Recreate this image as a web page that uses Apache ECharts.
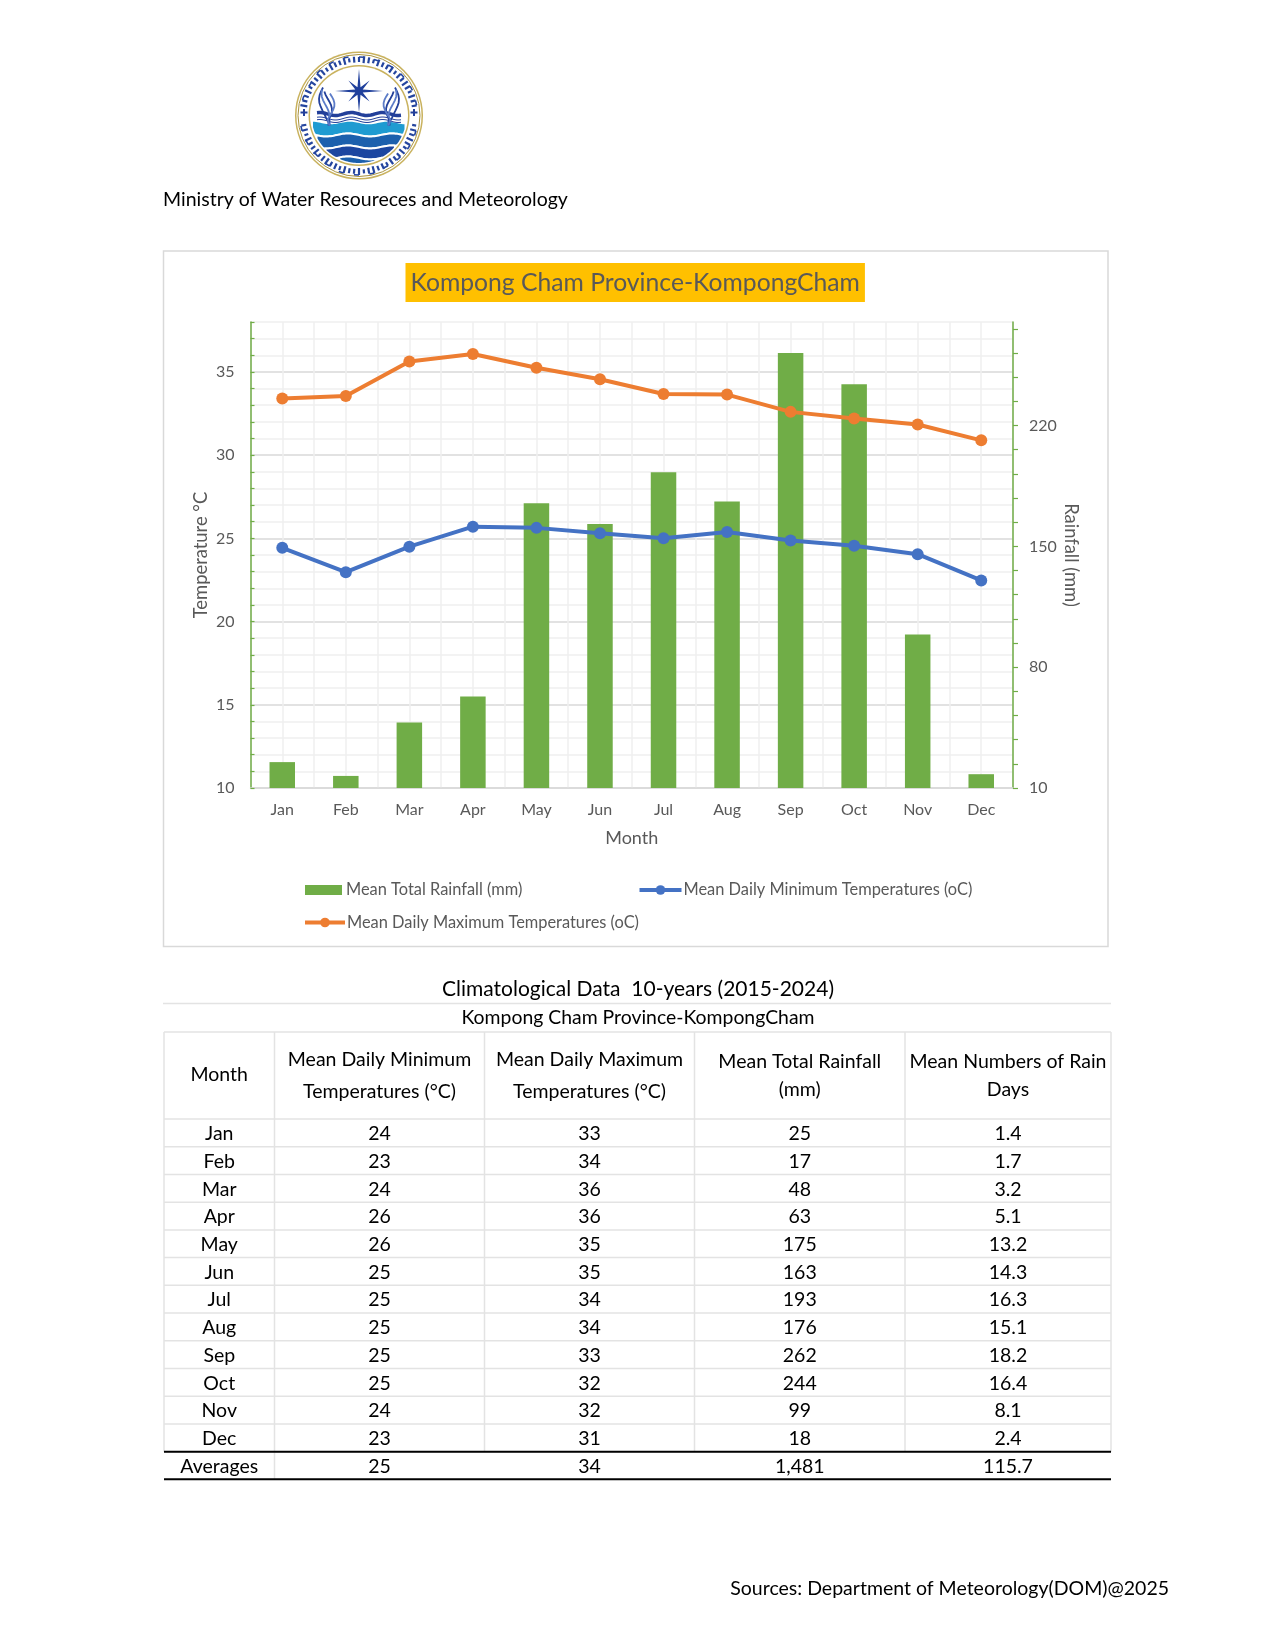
<!DOCTYPE html>
<html><head><meta charset="utf-8">
<style>html,body{margin:0;padding:0;background:#fff}#c{width:1275px;height:1650px}</style>
<script src="https://cdn.jsdelivr.net/npm/echarts@6/dist/echarts.min.js"></script>
</head><body><div id="c"></div>
<script>
const months=['Jan','Feb','Mar','Apr','May','Jun','Jul','Aug','Sep','Oct','Nov','Dec'];
const rainfall=[25,17,48,63,175,163,193,176,262,244,99,18];
const minTemp=[24.43,22.97,24.5,25.7,25.63,25.3,25.0,25.38,24.87,24.56,24.05,22.47];
const maxTemp=[33.4,33.55,35.63,36.08,35.25,34.56,33.67,33.64,32.6,32.2,31.84,30.89];
const tableMin=['24','23','24','26','26','25','25','25','25','25','24','23','25'];
const tableMax=['33','34','36','36','35','35','34','34','33','32','32','31','34'];
const tableRain=['25','17','48','63','175','163','193','176','262','244','99','18','1,481'];
const tableDays=['1.4','1.7','3.2','5.1','13.2','14.3','16.3','15.1','18.2','16.4','8.1','2.4','115.7'];
const tempLabels=[10,15,20,25,30,35];
const rainLabels=[10,80,150,220];
const rainTicks=[10,24,38,52,66,80,94,108,122,136,150,164,178,192,206,220,234,248,262,276];

const F='Lato';
const g=[];
const txt=(x,y,t,size,fill,align)=>g.push({type:'text',silent:true,z:5,style:{x,y,text:t,fontFamily:F,fontSize:size,fill:fill||'#000',align:align||'center',verticalAlign:'middle'}});
const ln=(x1,y1,x2,y2,c,w)=>g.push({type:'line',silent:true,z:3,shape:{x1,y1,x2,y2},style:{stroke:c,lineWidth:w}});

// chart frame + page texts
g.push({type:'rect',silent:true,shape:{x:163.5,y:251,width:944.5,height:695.5},style:{fill:'none',stroke:'#d9d9d9',lineWidth:1.5}});
txt(163,200,'Ministry of Water Resoureces and Meteorology',19.5,'#000','left');
txt(1169,1589,'Sources: Department of Meteorology(DOM)@2025',19.5,'#000','right');
txt(638,989.5,'Climatological Data  10-years (2015-2024)',21,'#000');
txt(638,1017.5,'Kompong Cham Province-KompongCham',19.4,'#000');

// table
const colX=[164,274.5,484.5,694.5,905,1111];
const cx=i=>(colX[i]+colX[i+1])/2;
const hdrTop=1032, hdrBot=1119, rowH=27.72;
ln(163,1003.5,1111,1003.5,'#e3e3e3',1.5);
ln(colX[0],hdrTop,colX[5],hdrTop,'#e3e3e3',1.5);
ln(colX[0],hdrBot,colX[5],hdrBot,'#e3e3e3',1.5);
for(let i=1;i<=12;i++)ln(colX[0],hdrBot+rowH*i,colX[5],hdrBot+rowH*i,'#e3e3e3',1.5);
colX.forEach((x,i)=>ln(x,hdrTop,x,hdrBot+rowH*12,'#e3e3e3',1.5));
ln(colX[1],hdrBot+rowH*12,colX[1],hdrBot+rowH*13,'#e3e3e3',1.5);
ln(colX[0],hdrBot+rowH*12,colX[5],hdrBot+rowH*12,'#000',2);
ln(colX[0],hdrBot+rowH*13,colX[5],hdrBot+rowH*13,'#000',2);
const HF=19.5;
txt(cx(0),1075,'Month',HF);
txt(cx(1),1059.5,'Mean Daily Minimum',HF); txt(cx(1),1091.5,'Temperatures (°C)',HF);
txt(cx(2),1059.5,'Mean Daily Maximum',HF); txt(cx(2),1091.5,'Temperatures (°C)',HF);
txt(cx(3),1061.5,'Mean Total Rainfall',HF); txt(cx(3),1090,'(mm)',HF);
txt(cx(4),1061.5,'Mean Numbers of Rain',HF); txt(cx(4),1090,'Days',HF);
months.concat(['Averages']).forEach((m,i)=>{
  const y=hdrBot+rowH*(i+.5)+1;
  txt(cx(0),y,m,HF);txt(cx(1),y,tableMin[i],HF);txt(cx(2),y,tableMax[i],HF);txt(cx(3),y,tableRain[i],HF);txt(cx(4),y,tableDays[i],HF);
});

// logo
(function(){
 const X=359,Y=115.5,c=(cc,r,o)=>g.push({type:'circle',silent:true,shape:{cx:X,cy:Y,r},style:Object.assign({fill:cc},o||{})});
 c('#c9b25e',64); c('#fff',62.5); c('none',61,{stroke:'#a8923f',lineWidth:1});
 c('#c9b25e',50.5); c('#fff',49);
 const band=(top,bot,fill)=>{
   const R=47.5,a=[],b=[];
   for(let dx=-R;dx<=R;dx+=1.5){
     const h=Math.sqrt(Math.max(0,R*R-dx*dx));
     const t=Math.max(top(dx),Y-h),q=Math.min(bot(dx),Y+h);
     if(q>t){a.push([X+dx,t]);b.unshift([X+dx,q]);}
   }
   g.push({type:'polygon',silent:true,z:2,shape:{points:a.concat(b)},style:{fill}});
 };
 const wave=(y0,amp,per)=>dx=>y0+amp*Math.sin(dx/per);
 band(wave(123,1.3,6),wave(134,1.5,7),'#1f9bd1');
 band(wave(134,1.5,7),wave(136,1.5,7),'#fff');
 band(wave(136,1.5,7),wave(146,1.5,7),'#1c60ad');
 band(wave(146,1.5,7),wave(148,1.5,7),'#fff');
 band(wave(148,1.5,7),wave(157,1.5,7),'#1c46a0');
 band(wave(157,1.5,7),wave(159,1.5,7),'#fff');
 band(wave(159,1.5,7),wave(170,1.5,7),'#1c60ad');
 // wave lines under the nagas
 for(const[y,w] of [[114,3.5],[118.5,1],[121,1]]){
   const p=[];for(let dx=-42;dx<=42;dx+=2)p.push([X+dx,y+1.5*Math.sin(dx/5)]);
   g.push({type:'polyline',silent:true,z:2,shape:{points:p},style:{stroke:'#23409a',lineWidth:w,fill:'none'}});
 }
 // compass star
 const sx=X,sy=91;
 const pts=[];const rays=[22,4,15,4,24,4,15,4,22,4,15,4,24,4,15,4];
 rays.forEach((r,i)=>{const a=i*Math.PI/8-Math.PI/2;pts.push([sx+r*Math.cos(a),sy+r*Math.sin(a)]);});
 g.push({type:'polygon',silent:true,z:2,shape:{points:pts},style:{fill:'#1f3f9c'}});
 // nagas
 for(const m of [-1,1]){
   for(let k=0;k<4;k++){
     const p=[];
     for(let t=0;t<=1.001;t+=.1){
       p.push([X+m*(36-k*2.5+4*Math.sin(t*5+k)-(t>.8?(t-.8)*15:0)),Y-28+k*2+t*(38-k*2)]);
     }
     g.push({type:'polyline',silent:true,z:2,shape:{points:p},style:{stroke:k%2?'#5c7cc8':'#23409a',lineWidth:1.8,fill:'none'}});
   }
   g.push({type:'rect',silent:true,z:2,shape:{x:X+m*55-3.5,y:Y-4,width:7,height:2},style:{fill:'#23409a'}});
   g.push({type:'rect',silent:true,z:2,shape:{x:X+m*55-1,y:Y-6.5,width:2,height:7},style:{fill:'#23409a'}});
 }
 // ring lettering (decorative strokes)
 const lens=[5,7,4,6,5,7,6,4,7,5];
 for(let i=0;i<72;i++){
   const a=i/72*Math.PI*2;
   if(Math.abs(Math.cos(a))>.985)continue;
   const l=lens[i%10],r1=56-l/2,r2=56+l/2;
   g.push({type:'line',silent:true,z:2,shape:{x1:X+r1*Math.cos(a),y1:Y+r1*Math.sin(a),x2:X+r2*Math.cos(a),y2:Y+r2*Math.sin(a)},style:{stroke:'#24459e',lineWidth:2.2}});
   if(i%3==0){const b=a+.035;g.push({type:'line',silent:true,z:2,shape:{x1:X+r2*Math.cos(a),y1:Y+r2*Math.sin(a),x2:X+r2*Math.cos(b+.05),y2:Y+r2*Math.sin(b+.05)},style:{stroke:'#24459e',lineWidth:1.6}});}
 }
})();

const minorColor='#efefef',majorColor='#d9d9d9';
const legendBase={orient:'horizontal',itemGap:4,selectedMode:false,padding:0,
  textStyle:{color:'#595959',fontFamily:F,fontSize:16.4,padding:[0,0,0,-3]}};
const lineLegend={itemWidth:42,itemHeight:12,lineStyle:{width:4}};
const chart=echarts.init(document.getElementById('c'),null,{width:1275,height:1650});
chart.setOption({
 animation:false,backgroundColor:'#fff',textStyle:{fontFamily:F},
 title:{text:'Kompong Cham Province-KompongCham',left:405.5,top:263,padding:[7,5,5,5],backgroundColor:'#FFC000',
   textStyle:{color:'#595959',fontFamily:F,fontSize:24.7,fontWeight:'normal',lineHeight:27}},
 legend:[
  Object.assign({},legendBase,{left:305,top:882,icon:'rect',itemWidth:37,itemHeight:10,textStyle:Object.assign({},legendBase.textStyle,{padding:[0,0,0,-1]}),data:['Mean Total Rainfall (mm)']}),
  Object.assign({},legendBase,lineLegend,{left:637.5,top:882,data:['Mean Daily Minimum Temperatures (oC)']}),
  Object.assign({},legendBase,lineLegend,{left:303,itemWidth:40,top:914.5,data:['Mean Daily Maximum Temperatures (oC)']})
 ],
 grid:{left:250.5,right:262,top:322,bottom:862},
 xAxis:[
  {type:'category',data:months,position:'bottom',
   axisLine:{onZero:false,lineStyle:{color:majorColor,width:1.5}},axisTick:{show:false},
   axisLabel:{color:'#595959',fontFamily:F,fontSize:16,margin:14},splitLine:{show:false},
   name:'Month',nameLocation:'middle',nameGap:41.5,nameMoveOverlap:false,nameTextStyle:{color:'#595959',fontFamily:F,fontSize:18}},
  {type:'value',min:0,max:24,interval:1,position:'top',
   axisLine:{show:false},axisTick:{show:false},axisLabel:{show:false},
   splitLine:{show:true,lineStyle:{color:minorColor,width:1.5}}}
 ],
 yAxis:[
  {type:'value',min:10,max:38,interval:1,position:'left',
   axisLine:{show:true,lineStyle:{color:'#70ad47',width:1.5}},
   axisTick:{show:true,inside:true,length:4,lineStyle:{color:'#70ad47',width:1.2}},
   axisLabel:{color:'#595959',fontFamily:F,fontSize:16,margin:16,customValues:tempLabels},
   splitLine:{show:true,lineStyle:{width:1.5,color:[majorColor,minorColor,minorColor,minorColor,minorColor]}},
   name:'Temperature °C',nameLocation:'middle',nameGap:40,nameRotate:90,nameMoveOverlap:false,
   nameTextStyle:{color:'#595959',fontFamily:F,fontSize:18.4}},
  {type:'value',min:10,max:280,position:'right',
   axisLine:{show:true,lineStyle:{color:'#70ad47',width:1.5}},
   axisTick:{show:true,inside:false,length:5,lineStyle:{color:'#70ad47',width:1.2},customValues:rainTicks},
   axisLabel:{color:'#595959',fontFamily:F,fontSize:16,margin:16,customValues:rainLabels},
   splitLine:{show:false},
   name:'Rainfall (mm)',nameLocation:'middle',nameGap:49,nameRotate:-90,nameMoveOverlap:false,
   nameTextStyle:{color:'#595959',fontFamily:F,fontSize:18.4}}
 ],
 series:[
  {name:'Mean Total Rainfall (mm)',type:'bar',yAxisIndex:1,barWidth:25.5,data:rainfall,itemStyle:{color:'#70ad47'},z:2},
  {name:'Mean Daily Minimum Temperatures (oC)',type:'line',yAxisIndex:0,data:minTemp,symbol:'circle',symbolSize:12,
   lineStyle:{color:'#4472c4',width:4},itemStyle:{color:'#4472c4'},z:4},
  {name:'Mean Daily Maximum Temperatures (oC)',type:'line',yAxisIndex:0,data:maxTemp,symbol:'circle',symbolSize:12,
   lineStyle:{color:'#ed7d31',width:4},itemStyle:{color:'#ed7d31'},z:4}
 ],
 graphic:g
});
</script></body></html>
